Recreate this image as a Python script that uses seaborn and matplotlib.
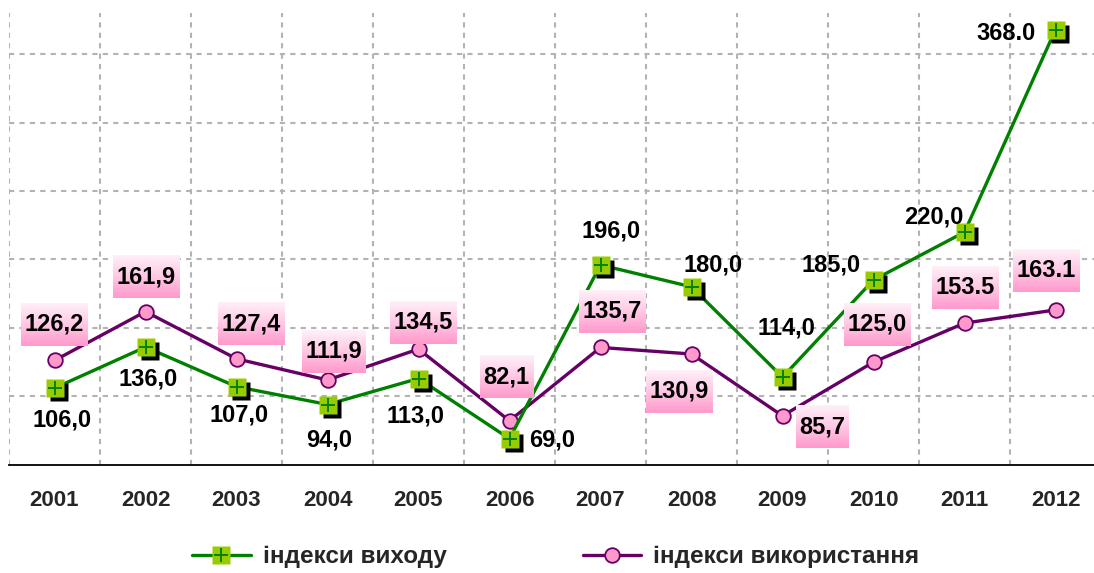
import matplotlib
matplotlib.use("Agg")
import matplotlib.pyplot as plt
import numpy as np
import seaborn as sns
from matplotlib.colors import LinearSegmentedColormap
from matplotlib.lines import Line2D
from matplotlib.transforms import offset_copy


years = ["2001", "2002", "2003", "2004", "2005", "2006",
         "2007", "2008", "2009", "2010", "2011", "2012"]
out_idx = [106.0, 136.0, 107.0, 94.0, 113.0, 69.0, 196.0, 180.0, 114.0, 185.0, 220.0, 368.0]
use_idx = [126.2, 161.9, 127.4, 111.9, 134.5, 82.1, 135.7, 130.9, 85.7, 125.0, 153.5, 163.1]
out_text = ["106,0", "136,0", "107,0", "94,0", "113,0", "69,0",
            "196,0", "180,0", "114,0", "185,0", "220,0", "368.0"]
use_text = ["126,2", "161,9", "127,4", "111,9", "134,5", "82,1",
            "135,7", "130,9", "85,7", "125,0", "153.5", "163.1"]
out_name = "індекси виходу"
use_name = "індекси використання"

# label offsets from the point, in pixels (right, up)
out_off = [(8, -32), (3, -32), (3, -28), (2, -36), (-3, -37), (43, -1),
           (11, 34), (22, 22), (4, 49), (-42, 15), (-31, 15), (-49, -4)]
use_off = [(0, 36), (1, 35), (15, 35), (6, 29), (5, 27), (-3, 44),
           (12, 36), (-12, -37), (40, -11), (4, 38), (1, 36), (-9, 39)]

GREEN = "#008000"
LIME = "#99cc00"
PURPLE = "#660066"
PINK = "#ff99cc"

sns.set_style("white")
plt.rcParams["font.family"] = ["Liberation Sans", "DejaVu Sans"]

W, H = 1094, 573
fig = plt.figure(figsize=(W / 100, H / 100), dpi=100)
ax = fig.add_axes([9 / W, (H - 464.7) / H, 1092 / W, 451.5 / H])

pos = np.arange(len(years))

sns.lineplot(x=pos, y=use_idx, ax=ax, color=PURPLE, linewidth=2.4, zorder=2)
ax.plot(pos, use_idx, "o", ms=10.5, mfc=PINK, mec=PURPLE, mew=1.3, zorder=3)

sns.lineplot(x=pos, y=out_idx, ax=ax, color=GREEN, linewidth=2.4, zorder=4)
shadow = offset_copy(ax.transData, fig=fig, x=4, y=-4, units="dots")
ax.plot(pos, out_idx, "s", ms=12.5, mfc="black", mec="none", transform=shadow, zorder=5)
ax.plot(pos, out_idx, "s", ms=12.5, mfc=LIME, mec="none", zorder=5)
ax.plot(pos, out_idx, "+", ms=10, mec=GREEN, mew=1.4, zorder=5)

ax.set_xlim(-0.5, len(years) - 0.5)
ax.set_ylim(50, 380)
ax.set_autoscale_on(False)

# grid and axes
ax.set_yticks([100, 150, 200, 250, 300, 350])
ax.set_yticklabels([])
ax.tick_params(axis="y", length=0)
ax.set_xticks(pos)
ax.set_xticklabels(years, fontsize=16, fontweight="bold")
ax.set_xticks(np.arange(-0.5, len(years)), minor=True)
ax.tick_params(axis="x", which="major", length=0, pad=18)
ax.tick_params(axis="x", which="minor", length=8, width=1.3, color="black", direction="out")
ax.grid(False)
ax.yaxis.grid(True, color="#b3b3b3", linestyle=(0, (2.5, 2.5)), linewidth=1.5)
ax.xaxis.grid(True, which="minor", color="#b3b3b3", linestyle=(0, (2.5, 2.5)), linewidth=1.5)
for s in ["top", "right", "left"]:
    ax.spines[s].set_visible(False)
ax.spines["bottom"].set_color("black")
ax.spines["bottom"].set_linewidth(1.3)
ax.set_xlabel("")
ax.set_ylabel("")

# value labels
lab_kw = dict(textcoords="offset pixels", ha="center", va="center",
              fontsize=17, fontweight="bold", color="black", zorder=8)
for x, y, t, (dx, dy) in zip(pos, out_idx, out_text, out_off):
    ax.annotate(t, (x, y), xytext=(dx, dy), **lab_kw)
use_labels = [ax.annotate(t, (x, y), xytext=(dx, dy), **lab_kw)
              for x, y, t, (dx, dy) in zip(pos, use_idx, use_text, use_off)]

# pink gradient boxes behind the purple series labels (light on top, pink below)
fig.canvas.draw()
rend = fig.canvas.get_renderer()
cmap = LinearSegmentedColormap.from_list("pinkgrad", ["#fff0f8", "#ffc8e4", PINK])
grad = np.linspace(1, 0, 64).reshape(-1, 1)
inv = ax.transData.inverted()
for t in use_labels:
    bb = t.get_window_extent(rend)
    (x0, y0) = inv.transform((bb.x0 - 3.5, bb.y0 - 10))
    (x1, y1) = inv.transform((bb.x1 + 3.5, bb.y1 + 10))
    ax.imshow(grad, cmap=cmap, vmin=0, vmax=1, extent=(x0, x1, y0, y1),
              origin="lower", aspect="auto", zorder=7, interpolation="bilinear")
ax.set_xlim(-0.5, len(years) - 0.5)
ax.set_ylim(50, 380)

# legend
h_out = (Line2D([], [], color=GREEN, lw=2.4, marker="s", ms=12.5, mfc=LIME, mec="none"),
         Line2D([], [], ls="none", marker="+", ms=10, mec=GREEN, mew=1.4))
h_use = Line2D([], [], color=PURPLE, lw=2.4, marker="o", ms=10.5, mfc=PINK, mec=PURPLE, mew=1.3)
fig.legend([h_out, h_use], [out_name, use_name], loc="center",
           bbox_to_anchor=(0.508, 0.028), ncol=2, frameon=False,
           handlelength=2.4, handletextpad=0.5, columnspacing=5.6,
           prop=dict(weight="bold", size=17.5))

fig.savefig("out.png", dpi=100)
